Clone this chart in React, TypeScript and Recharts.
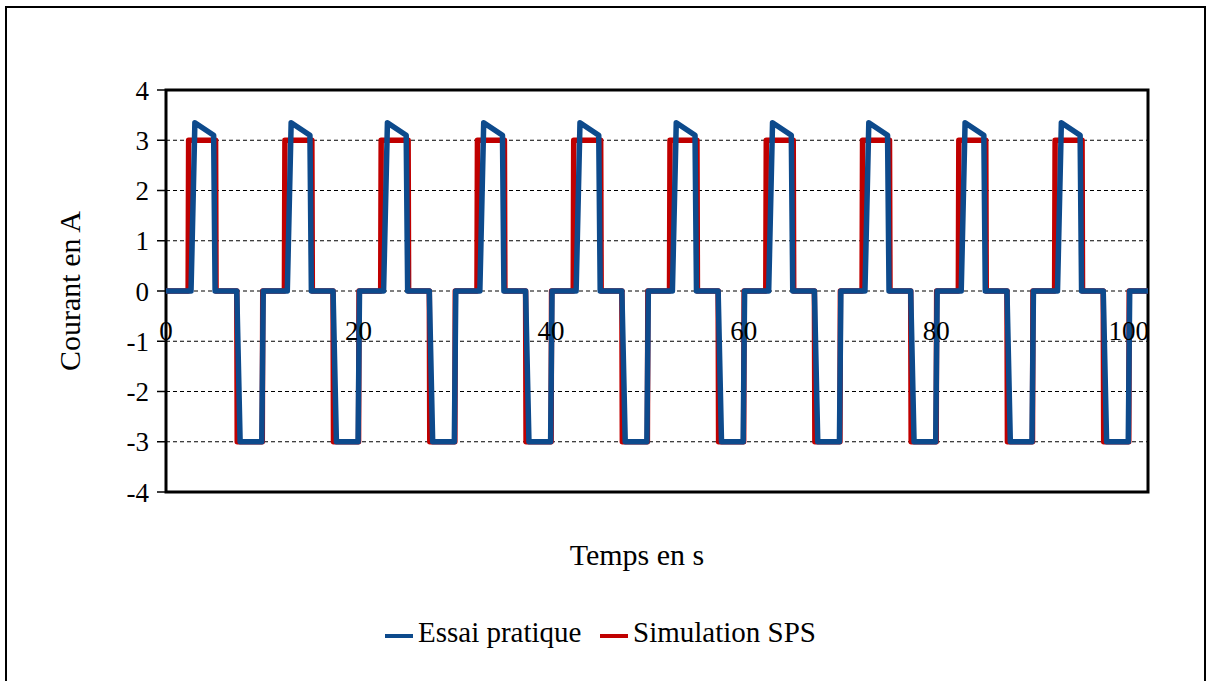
import { LineChart, Line, XAxis, YAxis, CartesianGrid, ReferenceArea } from 'recharts';

// Essai pratique (measured current), [time s, current A]
const essaiPoints: [number, number][] = [
  [0, 0],
  [2.6, 0], [3.0, 3.35], [4.95, 3.1], [5.1, 0], [7.35, 0], [7.7, -3], [9.95, -3], [10.1, 0],
  [12.6, 0], [13.0, 3.35], [14.95, 3.1], [15.1, 0], [17.35, 0], [17.7, -3], [19.95, -3], [20.1, 0],
  [22.6, 0], [23.0, 3.35], [24.95, 3.1], [25.1, 0], [27.35, 0], [27.7, -3], [29.95, -3], [30.1, 0],
  [32.6, 0], [33.0, 3.35], [34.95, 3.1], [35.1, 0], [37.35, 0], [37.7, -3], [39.95, -3], [40.1, 0],
  [42.6, 0], [43.0, 3.35], [44.95, 3.1], [45.1, 0], [47.35, 0], [47.7, -3], [49.95, -3], [50.1, 0],
  [52.6, 0], [53.0, 3.35], [54.95, 3.1], [55.1, 0], [57.35, 0], [57.7, -3], [59.95, -3], [60.1, 0],
  [62.6, 0], [63.0, 3.35], [64.95, 3.1], [65.1, 0], [67.35, 0], [67.7, -3], [69.95, -3], [70.1, 0],
  [72.6, 0], [73.0, 3.35], [74.95, 3.1], [75.1, 0], [77.35, 0], [77.7, -3], [79.95, -3], [80.1, 0],
  [82.6, 0], [83.0, 3.35], [84.95, 3.1], [85.1, 0], [87.35, 0], [87.7, -3], [89.95, -3], [90.1, 0],
  [92.6, 0], [93.0, 3.35], [94.95, 3.1], [95.1, 0], [97.35, 0], [97.7, -3], [99.95, -3], [100.1, 0],
  [102, 0],
];

// Simulation SPS, [time s, current A]
const simulationPoints: [number, number][] = [
  [0, 0],
  [2.3, 0], [2.35, 3], [5.15, 3], [5.2, 0], [7.35, 0], [7.4, -3], [10.0, -3], [10.05, 0],
  [12.3, 0], [12.35, 3], [15.15, 3], [15.2, 0], [17.35, 0], [17.4, -3], [20.0, -3], [20.05, 0],
  [22.3, 0], [22.35, 3], [25.15, 3], [25.2, 0], [27.35, 0], [27.4, -3], [30.0, -3], [30.05, 0],
  [32.3, 0], [32.35, 3], [35.15, 3], [35.2, 0], [37.35, 0], [37.4, -3], [40.0, -3], [40.05, 0],
  [42.3, 0], [42.35, 3], [45.15, 3], [45.2, 0], [47.35, 0], [47.4, -3], [50.0, -3], [50.05, 0],
  [52.3, 0], [52.35, 3], [55.15, 3], [55.2, 0], [57.35, 0], [57.4, -3], [60.0, -3], [60.05, 0],
  [62.3, 0], [62.35, 3], [65.15, 3], [65.2, 0], [67.35, 0], [67.4, -3], [70.0, -3], [70.05, 0],
  [72.3, 0], [72.35, 3], [75.15, 3], [75.2, 0], [77.35, 0], [77.4, -3], [80.0, -3], [80.05, 0],
  [82.3, 0], [82.35, 3], [85.15, 3], [85.2, 0], [87.35, 0], [87.4, -3], [90.0, -3], [90.05, 0],
  [92.3, 0], [92.35, 3], [95.15, 3], [95.2, 0], [97.35, 0], [97.4, -3], [100.0, -3], [100.05, 0],
  [102, 0],
];

const xTicks = [0, 20, 40, 60, 80, 100];
const yTicks = [-4, -3, -2, -1, 0, 1, 2, 3, 4];

const BLUE = '#0d4a8c';
const RED = '#c00000';
const FONT = "'Liberation Serif', 'DejaVu Serif', 'Times New Roman', Times, serif";

const W = 1207;
const H = 681;
const M = { top: 90, right: 59, left: 0, bottom: 0 };
const Y_AXIS_W = 166;
const X_AXIS_H = 189;
const PLOT_H = H - M.top - M.bottom - X_AXIS_H;
const ZERO_Y = M.top + PLOT_H * (4 / 8);

const essaiData = essaiPoints.map(([t, i]) => ({ t, i }));
const simData = simulationPoints.map(([t, i]) => ({ t, i }));

// x labels sit just under the 0 line, like the Excel axis crossing at 0
const XTick = ({ x, payload }: any) => (
  <text x={x} y={ZERO_Y + 49} textAnchor="middle" fontSize={27} style={{ fontFamily: FONT }} fill="#000">
    {payload.value}
  </text>
);

export default function App() {
  return (
    <div style={{
      position: 'fixed', left: 0, top: 0, width: W, height: H, background: '#fff',
      overflow: 'hidden', fontFamily: FONT,
    }}>
      <div style={{
        position: 'absolute', left: 5, top: 6, width: 1201, height: 700,
        border: '2px solid #000', boxSizing: 'border-box',
      }} />
      <LineChart width={W} height={H} data={essaiData} margin={M}
        style={{ position: 'absolute', left: 0, top: 0, fontFamily: FONT }}>
        <CartesianGrid vertical={false} stroke="#000" strokeDasharray="4 3" />
        <XAxis dataKey="t" type="number" domain={[0, 102]} ticks={xTicks} height={X_AXIS_H}
          axisLine={false} tickLine={false} tick={<XTick />} allowDataOverflow />
        <YAxis type="number" domain={[-4, 4]} ticks={yTicks} width={Y_AXIS_W} interval={0}
          axisLine={false} tickLine={{ stroke: '#000', strokeWidth: 1.5 }} tickSize={9} tickMargin={8}
          tick={{ fill: '#000', fontSize: 27, style: { fontFamily: FONT } }} />
        <ReferenceArea x1={0} x2={102} y1={-4} y2={4} fill="none" stroke="#000" strokeWidth={3} fillOpacity={0} />
        <Line data={simData} dataKey="i" stroke={RED} strokeWidth={5.5} dot={false}
          strokeLinejoin="round" isAnimationActive={false} />
        <Line data={essaiData} dataKey="i" stroke={BLUE} strokeWidth={5.5} dot={false}
          strokeLinejoin="round" isAnimationActive={false} />
      </LineChart>
      <svg width={W} height={H} style={{ position: 'absolute', left: 0, top: 0, pointerEvents: 'none', fontFamily: FONT }}
        fill="#000">
        <text x={80} y={291} textAnchor="middle" fontSize={30} transform="rotate(-90 80 291)">Courant en A</text>
        <text x={637} y={565} textAnchor="middle" fontSize={30}>Temps en s</text>
        <line x1={385} x2={413} y1={636} y2={636} stroke={BLUE} strokeWidth={4} />
        <text x={418} y={642} fontSize={29}>Essai pratique</text>
        <line x1={600} x2={628} y1={636} y2={636} stroke={RED} strokeWidth={4} />
        <text x={633} y={642} fontSize={29}>Simulation SPS</text>
      </svg>
    </div>
  );
}
